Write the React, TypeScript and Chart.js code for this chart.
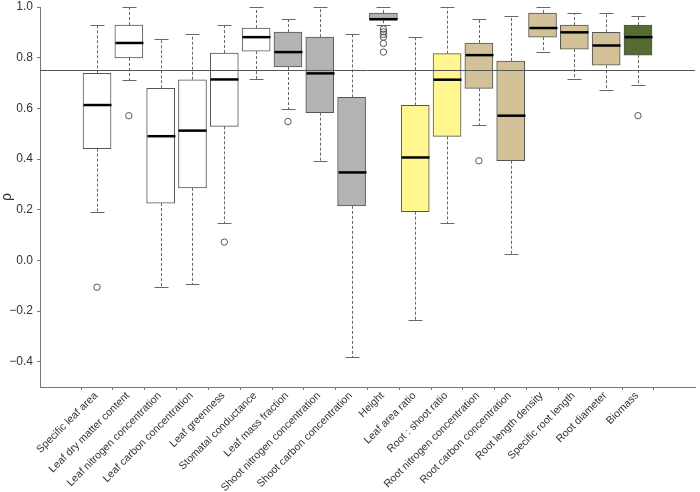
import React, { useEffect, useRef } from "react";
import { Chart, registerables } from "chart.js";

Chart.register(...registerables);

const categories = [
  "Specific leaf area",
  "Leaf dry matter content",
  "Leaf nitrogen concentration",
  "Leaf carbon concentration",
  "Leaf greenness",
  "Stomatal conductance",
  "Leaf mass fraction",
  "Shoot nitrogen concentration",
  "Shoot carbon concentration",
  "Height",
  "Leaf area ratio",
  "Root : shoot ratio",
  "Root nitrogen concentration",
  "Root carbon concentration",
  "Root length density",
  "Specific root length",
  "Root diameter",
  "Biomass",
];

const whiskerLow = [0.192, 0.713, -0.105, -0.095, 0.146, 0.714, 0.596, 0.393, -0.38, 0.929, -0.236, 0.146, 0.536, 0.025, 0.822, 0.714, 0.672, 0.691];
const q1 = [0.441, 0.799, 0.226, 0.286, 0.529, 0.826, 0.763, 0.583, 0.215, 0.948, 0.192, 0.489, 0.679, 0.393, 0.881, 0.834, 0.77, 0.81];
const median = [0.613, 0.858, 0.49, 0.512, 0.714, 0.881, 0.822, 0.738, 0.347, 0.952, 0.406, 0.713, 0.81, 0.571, 0.917, 0.9, 0.848, 0.881];
const q3 = [0.738, 0.929, 0.679, 0.713, 0.818, 0.917, 0.901, 0.881, 0.643, 0.976, 0.612, 0.816, 0.858, 0.787, 0.976, 0.929, 0.9, 0.929];
const whiskerHigh = [0.93, 1.0, 0.873, 0.893, 0.93, 1.0, 0.951, 1.0, 0.893, 1.0, 0.88, 1.0, 0.951, 0.964, 1.0, 0.976, 0.976, 0.964];

const outlierCategory = [0, 1, 4, 6, 9, 9, 9, 9, 9, 9, 12, 17];
const outlierValue = [-0.106, 0.571, 0.072, 0.548, 0.913, 0.902, 0.892, 0.881, 0.856, 0.822, 0.393, 0.571];

const referenceValue = 0.75;
const yTicks = [-0.4, -0.2, 0.0, 0.2, 0.4, 0.6, 0.8, 1.0];

const groupColors = ["#ffffff", "#ffffff", "#ffffff", "#ffffff", "#ffffff", "#ffffff",
  "#b3b3b3", "#b3b3b3", "#b3b3b3", "#b3b3b3",
  "#fff68f", "#fff68f",
  "#d3c197", "#d3c197", "#d3c197", "#d3c197", "#d3c197",
  "#566b2f"];

const boxPlugin = {
  id: "boxExtras",
  afterDatasetsDraw(chart: any) {
    const ctx = chart.ctx;
    const xs = chart.scales.x;
    const ys = chart.scales.y;
    const area = chart.chartArea;
    ctx.save();
    categories.forEach((_, i) => {
      const x = Math.round(xs.getPixelForValue(i)) + 0.5;
      const yq1 = ys.getPixelForValue(q1[i]);
      const yq3 = ys.getPixelForValue(q3[i]);
      const ylo = Math.round(ys.getPixelForValue(whiskerLow[i])) + 0.5;
      const yhi = Math.round(ys.getPixelForValue(whiskerHigh[i])) + 0.5;
      ctx.strokeStyle = "#666";
      ctx.lineWidth = 1;
      ctx.setLineDash([3, 2]);
      ctx.beginPath();
      ctx.moveTo(x, yq3);
      ctx.lineTo(x, yhi);
      ctx.moveTo(x, yq1);
      ctx.lineTo(x, ylo);
      ctx.stroke();
      ctx.setLineDash([]);
      ctx.beginPath();
      ctx.moveTo(x - 7, yhi);
      ctx.lineTo(x + 7, yhi);
      ctx.moveTo(x - 7, ylo);
      ctx.lineTo(x + 7, ylo);
      ctx.stroke();
      const ym = ys.getPixelForValue(median[i]);
      ctx.strokeStyle = "#000";
      ctx.lineWidth = 2.5;
      ctx.beginPath();
      ctx.moveTo(x - 14, ym);
      ctx.lineTo(x + 14, ym);
      ctx.stroke();
    });
    const yr = Math.round(ys.getPixelForValue(referenceValue)) + 0.5;
    ctx.strokeStyle = "#555";
    ctx.lineWidth = 1;
    ctx.beginPath();
    ctx.moveTo(area.left, yr);
    ctx.lineTo(area.right, yr);
    ctx.stroke();

    // rotated category labels
    ctx.fillStyle = "#333";
    ctx.font = "10.6px 'Liberation Sans'";
    ctx.textAlign = "right";
    ctx.textBaseline = "middle";
    categories.forEach((label, i) => {
      const x = xs.getPixelForValue(i);
      ctx.save();
      ctx.translate(x - 1, area.bottom + 7);
      ctx.rotate(-Math.PI / 4);
      ctx.fillText(label, 0, 0);
      ctx.restore();
    });
    ctx.restore();
  },
};

export default function App() {
  const ref = useRef<HTMLCanvasElement | null>(null);
  useEffect(() => {
    document.body.style.margin = "0";
    const chart = new Chart(ref.current as HTMLCanvasElement, {
      type: "bar",
      data: {
        datasets: [
          {
            type: "bar",
            data: categories.map((_, i) => ({ x: i, y: [q1[i], q3[i]] })) as any,
            backgroundColor: groupColors,
            borderColor: "#555",
            borderWidth: 1,
            borderSkipped: false,
            barThickness: 28,
            order: 2,
          } as any,
          {
            type: "scatter",
            data: outlierCategory.map((c, k) => ({ x: c, y: outlierValue[k] })),
            pointRadius: 3.2,
            pointBorderWidth: 1,
            pointBorderColor: "#555",
            pointBackgroundColor: "rgba(0,0,0,0)",
            showLine: false,
            order: 1,
          } as any,
        ],
      },
      options: {
        animation: false,
        responsive: true,
        maintainAspectRatio: false,
        devicePixelRatio: 1,
        layout: { padding: { left: 0, right: 2, top: 7, bottom: 0 } },
        plugins: { legend: { display: false }, tooltip: { enabled: false } },
        scales: {
          x: {
            type: "linear",
            min: -1.22,
            max: 18.22,
            afterBuildTicks: (scale: any) => {
              scale.ticks = categories.map((_, i) => ({ value: i }));
            },
            afterFit: (scale: any) => {
              scale.height = 105;
              scale.paddingLeft = 0;
              scale.paddingRight = 0;
            },
            ticks: {
              autoSkip: false,
              maxRotation: 0,
              padding: 0,
              callback: () => "",
            },
            grid: { drawOnChartArea: false, drawTicks: true, tickLength: 3, color: "#777" },
            border: { display: true, color: "#777", width: 1 },
          },
          y: {
            type: "linear",
            min: -0.5,
            max: 1.0,
            afterBuildTicks: (scale: any) => {
              scale.ticks = yTicks.map((v) => ({ value: v }));
            },
            afterFit: (scale: any) => {
              scale.width = 40;
              scale.paddingTop = 0;
              scale.paddingBottom = 0;
            },
            ticks: {
              padding: 4,
              color: "#333",
              font: { family: "Liberation Sans", size: 12 },
              callback: (v: any) => (v < 0 ? "\u2212" + Math.abs(v).toFixed(1) : Number(v).toFixed(1)),
            },
            grid: { drawOnChartArea: false, drawTicks: true, tickLength: 3, color: "#777" },
            border: { display: true, color: "#777", width: 1 },
            title: {
              display: true,
              text: "ρ",
              color: "#333",
              font: { family: "Liberation Sans", size: 14, lineHeight: 1 },
              padding: { top: 0, bottom: 0 },
            },
          },
        },
      },
      plugins: [boxPlugin],
    });
    return () => chart.destroy();
  }, []);
  return (
    <div style={{ width: 700, height: 492, position: "relative" }}>
      <canvas ref={ref} />
    </div>
  );
}
